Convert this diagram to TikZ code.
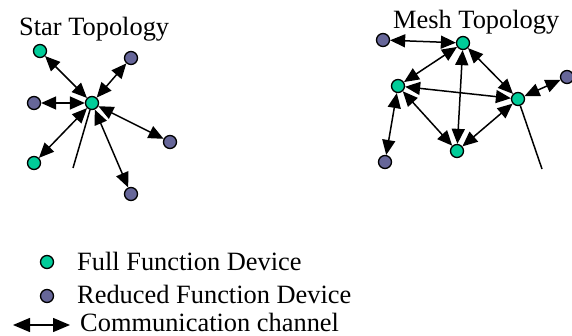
\documentclass[tikz,border=0pt]{standalone}
\usepackage{fontspec}
\setmainfont{Liberation Serif}
\usetikzlibrary{arrows.meta}
\definecolor{ffdgreen}{HTML}{00CC99}
\definecolor{rfdblue}{HTML}{666699}
\tikzset{
  dev/.style={circle, draw=black, line width=1.3pt, inner sep=0pt, minimum size=13pt},
  ffd/.style={dev, fill=ffdgreen},
  rfd/.style={dev, fill=rfdblue},
  link/.style={line width=1.5pt, {Triangle[length=15pt,width=13pt]}-{Triangle[length=15pt,width=13pt]}},
  plain/.style={line width=1.5pt},
  lbl/.style={anchor=base west, inner sep=0pt, font=\fontsize{26.4}{30}\selectfont}
}
\begin{document}
\begin{tikzpicture}[x=1pt,y=-1pt]
\useasboundingbox (0,0) rectangle (572,336);

% Star topology
\node[lbl] (startitle) at (19,36) {Star Topology};
\node[ffd] (sc) at (92,103) {};
\node[ffd] (s1) at (40,51) {};
\node[rfd] (s2) at (131,58) {};
\node[rfd] (s3) at (34,103) {};
\node[rfd] (s4) at (170,142) {};
\node[ffd] (s5) at (34,163) {};
\node[rfd] (s6) at (131,194) {};
\coordinate (stail) at (73,168);
\draw[plain] (stail) -- (sc);
\foreach \n in {s1,s2,s3,s4,s5,s6}
  \draw[link] (sc) -- (\n);

% Mesh topology
\node[lbl] (meshtitle) at (393,29) {Mesh Topology};
\node[rfd] (m0) at (383,40) {};
\node[ffd] (mt) at (463,43) {};
\node[ffd] (ml) at (398,86) {};
\node[ffd] (mr) at (518,99) {};
\node[rfd] (mrr) at (567,77) {};
\node[ffd] (mb) at (457,151) {};
\node[rfd] (mbl) at (385,162) {};
\coordinate (mtail) at (542,169);
\draw[plain] (mr) -- (mtail);
\draw[link] (m0) -- (mt);
\draw[link] (mt) -- (ml);
\draw[link] (mt) -- (mb);
\draw[link] (mt) -- (mr);
\draw[link] (ml) -- (mr);
\draw[link] (ml) -- (mb);
\draw[link] (mb) -- (mr);
\draw[link] (mr) -- (mrr);
\draw[link] (ml) -- (mbl);

% Legend
\node[ffd] (kffd) at (47,262) {};
\node[rfd] (krfd) at (47,296) {};
\coordinate (ka) at (13,325);
\coordinate (kb) at (70,325);
\draw[line width=1.5pt, {Triangle[length=17pt,width=14pt]}-{Triangle[length=17pt,width=14pt]}] (ka) -- (kb);
\node[lbl] (tffd) at (77,271) {Full Function Device};
\node[lbl] (trfd) at (77,303) {Reduced Function Device};
\node[lbl] (tch) at (80,331) {Communication channel};
\end{tikzpicture}
\end{document}
